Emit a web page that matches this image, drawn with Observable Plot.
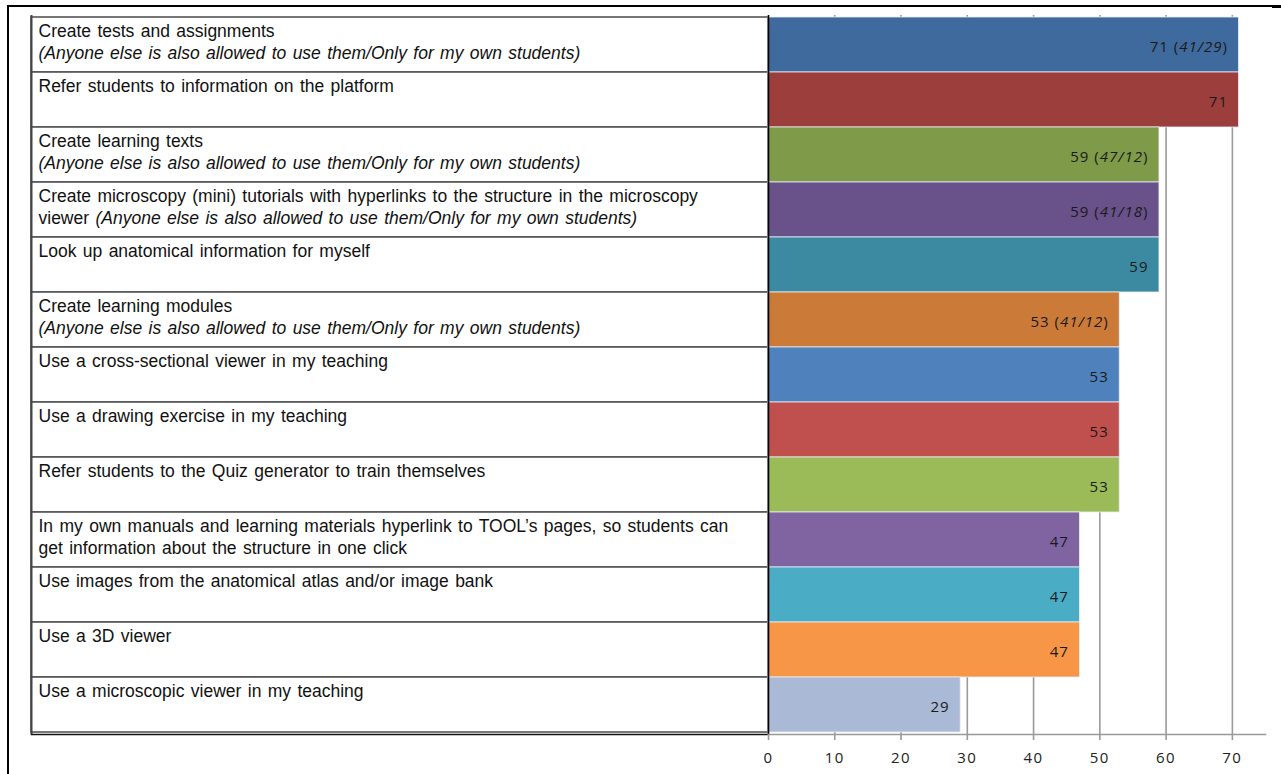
<!DOCTYPE html>
<html>
<head>
<meta charset="utf-8">
<script src="https://cdn.jsdelivr.net/npm/d3@7"></script>
<script src="https://cdn.jsdelivr.net/npm/@observablehq/plot@0.6"></script>
<style>
  html, body { margin: 0; padding: 0; background: #fff; }
  #wrap { position: relative; width: 1281px; height: 774px; overflow: hidden; }
  #frame { position: absolute; left: 7px; top: 5px; width: 1265px; height: 780px;
           border-top: 2px solid #000; border-left: 2px solid #000; }
  #frame2 { position: absolute; left: 1272px; top: 5px; width: 9px; height: 3px; background: #000; }
  #row { position: absolute; left: 0; top: 0; display: flex; }
  #row svg { overflow: visible; background: transparent; }
</style>
</head>
<body>
<div id="wrap">
  <div id="frame"></div>
  <div id="frame2"></div>
  <div id="row"></div>
</div>
<script>
// ---- data ----
const line1 = [
  "Create tests and assignments",
  "Refer students to information on the platform",
  "Create learning texts",
  "Create microscopy (mini) tutorials with hyperlinks to the structure in the microscopy",
  "Look up anatomical information for myself",
  "Create learning modules",
  "Use a cross-sectional viewer in my teaching",
  "Use a drawing exercise in my teaching",
  "Refer students to the Quiz generator to train themselves",
  "In my own manuals and learning materials hyperlink to TOOL\u2019s pages, so students can",
  "Use images from the anatomical atlas and/or image bank",
  "Use a 3D viewer",
  "Use a microscopic viewer in my teaching"
];
const line2 = [
  "(Anyone else is also allowed to use them/Only for my own students)",
  "",
  "(Anyone else is also allowed to use them/Only for my own students)",
  "viewer (Anyone else is also allowed to use them/Only for my own students)",
  "",
  "(Anyone else is also allowed to use them/Only for my own students)",
  "",
  "",
  "",
  "get information about the structure in one click",
  "",
  "",
  ""
];
const values = [71, 71, 59, 59, 59, 53, 53, 53, 53, 47, 47, 47, 29];
const shared = [41, null, 47, 41, null, 41, null, null, null, null, null, null, null];
const ownOnly = [29, null, 12, 18, null, 12, null, null, null, null, null, null, null];
const colors = ["#3F6A9D", "#9C3E3C", "#7F9A48", "#69518A", "#3B8AA2", "#CB7A38", "#4F81BD",
                "#C0504D", "#9BBB59", "#8064A2", "#4BACC6", "#F79646", "#AAB9D6"];
const xTicks = [0, 10, 20, 30, 40, 50, 60, 70];

const rows = line1.map((t, i) => ({
  id: i, l1: t, l2: line2[i], value: values[i],
  label: shared[i] == null ? `${values[i]}` : `${values[i]} (${shared[i]}/${ownOnly[i]})`,
  color: colors[i]
}));
const ids = rows.map(d => d.id);

const H = 774, mTop = 15, mBottom = 40;

// ---- left: table ----
const left = Plot.plot({
  width: 768, height: H,
  marginLeft: 31, marginRight: 0, marginTop: mTop, marginBottom: mBottom,
  x: {domain: [0, 1], axis: null},
  y: {domain: ids, axis: null, padding: 0},
  style: {fontFamily: "'Liberation Sans', Arial, sans-serif", background: "transparent", wordSpacing: "1.5px"},
  marks: [
    Plot.barX(rows, {y: "id", x1: 0, x2: 1, fill: "white", stroke: "#555", strokeWidth: 1.6}),
    Plot.ruleX([0], {stroke: "#444", strokeWidth: 2}),
    Plot.frame({anchor: "bottom", stroke: "#111", strokeWidth: 1.6}),
    Plot.text(rows, {y: "id", text: "l1", frameAnchor: "left", textAnchor: "start",
      dx: 7, dy: -13.5, fontSize: 17.5, fill: "#111", lineAnchor: "middle"}),
    Plot.text(rows, {y: "id", text: "l2", frameAnchor: "left", textAnchor: "start",
      dx: 7, dy: 8.5, fontSize: 17.5, fill: "#111", lineAnchor: "middle"})
  ]
});

// ---- right: bars ----
const right = Plot.plot({
  width: 513, height: H,
  marginLeft: 0, marginRight: 16, marginTop: mTop, marginBottom: mBottom,
  x: {domain: [0, 75], ticks: xTicks, label: null},
  y: {domain: ids, axis: null, padding: 0},
  style: {fontFamily: "'Open Sans', 'Noto Sans', sans-serif", background: "transparent"},
  marks: [
    Plot.gridX(xTicks.filter(t => t > 0), {stroke: "#9a9a9a", strokeOpacity: 1, strokeWidth: 1.6}),
    Plot.barX(rows, {y: "id", x: "value", fill: "color", stroke: "#e8eef4", strokeWidth: 0.8}),
    Plot.ruleX([0], {stroke: "#000", strokeWidth: 1.6}),
    Plot.frame({anchor: "bottom", stroke: "#999", strokeWidth: 1.6}),
    Plot.axisX({ticks: xTicks, tickSize: 6, tickPadding: 12, fontSize: 15, stroke: "#999",
      strokeWidth: 1.6, color: "#222", label: null, tickFormat: d => `${d}`}),
    Plot.text(rows, {y: "id", x: "value", text: "label", textAnchor: "end", dx: -11, dy: 2,
      fontSize: 15, fill: "#1a1a1a"})
  ]
});

document.getElementById("row").append(left, right);

// letter spacing for the numbers
d3.select(right).selectAll('g[aria-label="x-axis tick label"] text').attr("letter-spacing", "1.5px");

// italic for parenthesised notes in the table (second text mark of the table)
const leftTextGroups = d3.select(left).selectAll('g[aria-label="text"]').nodes();
d3.select(leftTextGroups[leftTextGroups.length - 1]).selectAll("text").each(function () {
  const t = this.textContent;
  const k = t.indexOf("(");
  if (k < 0) return;
  const sel = d3.select(this);
  sel.text("");
  if (k > 0) sel.append("tspan").text(t.slice(0, k));
  sel.append("tspan").attr("font-style", "italic").text(t.slice(k));
});
// italic for the split numbers inside the value labels
const rightTextGroups = d3.select(right).selectAll('g[aria-label="text"]').nodes();
d3.select(rightTextGroups[rightTextGroups.length - 1]).selectAll("text").each(function () {
  const t = this.textContent;
  const sel = d3.select(this).attr("letter-spacing", "1px");
  const m = t.match(/^(\d+ \()([^)]*)(\))$/);
  if (!m) return;
  sel.text("");
  sel.append("tspan").text(m[1]);
  sel.append("tspan").attr("font-style", "italic").text(m[2]);
  sel.append("tspan").text(m[3]);
});
</script>
</body>
</html>
